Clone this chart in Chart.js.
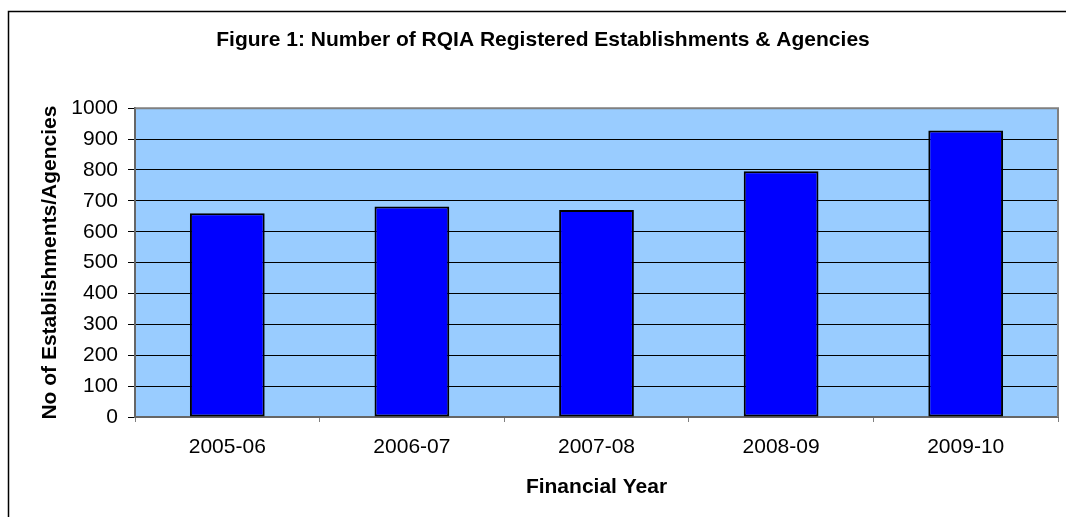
<!DOCTYPE html>
<html>
<head>
<meta charset="utf-8">
<script src="https://cdn.jsdelivr.net/npm/chart.js@4"></script>
<style>
  body { margin: 0; background: #fff; }
  #wrap { width: 1066px; height: 517px; }
</style>
</head>
<body>
<div id="wrap"><canvas id="myGraph" width="1066" height="517"></canvas></div>
<script>
// data
const years = ['2005-06', '2006-07', '2007-08', '2008-09', '2009-10'];
const registered = [660, 682, 670, 796, 928];
const yMin = 0;
const yMax = 1000;
const yStep = 100;

const FONT = '"Liberation Sans", Arial, sans-serif';

// outer frame, blue plot background and the grey plot border
const excelLook = {
  id: 'excelLook',
  beforeDraw(chart) {
    const {ctx, chartArea: a} = chart;
    ctx.save();
    ctx.fillStyle = '#99CCFF';
    ctx.fillRect(a.left, a.top, a.right - a.left, a.bottom - a.top);
    ctx.strokeStyle = '#000';
    ctx.lineWidth = 1.5;
    ctx.beginPath();
    ctx.moveTo(8.5, 517);
    ctx.lineTo(8.5, 11.5);
    ctx.lineTo(1066, 11.5);
    ctx.stroke();
    ctx.restore();
  },
  afterDraw(chart) {
    const {ctx, chartArea: a} = chart;
    ctx.save();
    ctx.strokeStyle = '#808080';
    ctx.lineWidth = 2;
    ctx.beginPath();
    ctx.moveTo(a.left, a.top);
    ctx.lineTo(a.right, a.top);
    ctx.lineTo(a.right, a.bottom);
    ctx.stroke();
    ctx.restore();
  }
};

new Chart(document.getElementById('myGraph'), {
  type: 'bar',
  data: {
    labels: years,
    datasets: [{
      label: 'Registered',
      data: registered,
      backgroundColor: '#0000FF',
      borderColor: '#000',
      borderWidth: 2,
      borderSkipped: false,
      categoryPercentage: 1,
      barPercentage: 0.405
    }]
  },
  options: {
    responsive: false,
    devicePixelRatio: 1,
    animation: false,
    layout: { padding: { left: 28, right: 8, top: 0, bottom: 0 } },
    plugins: {
      legend: { display: false },
      tooltip: { enabled: false },
      title: {
        display: true,
        text: 'Figure 1: Number of RQIA Registered Establishments & Agencies',
        color: '#000',
        font: { family: FONT, size: 21, weight: 'bold', lineHeight: 1.2 },
        padding: { top: 28, bottom: 55 }
      }
    },
    scales: {
      x: {
        afterFit(scale) { scale.height = 100; },
        grid: {
          drawOnChartArea: false,
          drawTicks: true,
          tickLength: 5,
          offset: true,
          color: '#808080'
        },
        border: { color: '#666', width: 2 },
        ticks: {
          color: '#000',
          padding: 13,
          font: { family: FONT, size: 21 }
        },
        title: {
          display: true,
          text: 'Financial Year',
          color: '#000',
          font: { family: FONT, size: 21, weight: 'bold', lineHeight: 1.2 },
          padding: { top: 0, bottom: 17 }
        }
      },
      y: {
        min: yMin,
        max: yMax,
        afterFit(scale) { scale.width = 107; },
        grid: {
          color: '#000',
          lineWidth: 1,
          tickLength: 7,
          tickColor: '#000'
        },
        border: { color: '#666', width: 2 },
        ticks: {
          stepSize: yStep,
          color: '#000',
          padding: 10,
          font: { family: FONT, size: 21 },
          callback: (v) => String(v)
        },
        title: {
          display: true,
          text: 'No of Establishments/Agencies',
          color: '#000',
          font: { family: FONT, size: 21, weight: 'bold', lineHeight: 1.2 },
          padding: { top: 10, bottom: 0 }
        }
      }
    }
  },
  plugins: [excelLook]
});
</script>
</body>
</html>
